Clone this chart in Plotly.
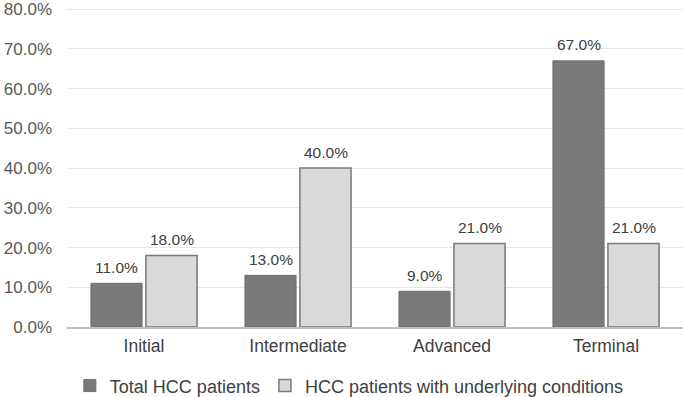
import plotly.graph_objects as go

categories = ["Initial", "Intermediate", "Advanced", "Terminal"]
total_hcc = [11.0, 13.0, 9.0, 67.0]
hcc_underlying = [18.0, 40.0, 21.0, 21.0]
series_names = ["Total HCC patients", "HCC patients with underlying conditions"]
y_ticks = [0, 10, 20, 30, 40, 50, 60, 70, 80]

font_family = "Liberation Sans, Arial, sans-serif"

fig = go.Figure()
fig.add_trace(go.Bar(
    x=categories, y=total_hcc, name=series_names[0],
    marker=dict(color="#7a7a7a", line=dict(color="#6e6e6e", width=1)),
))
fig.add_trace(go.Bar(
    x=categories, y=hcc_underlying, name=series_names[1],
    marker=dict(color="#d9d9d9", line=dict(color="#7a7a7a", width=1.5)),
))

# data labels above each bar (offset left/right within the group)
for series, dx in ((total_hcc, -27.5), (hcc_underlying, 27.5)):
    for cat, v in zip(categories, series):
        fig.add_annotation(x=cat, y=v, text=f"{v:.1f}%", showarrow=False,
                           xshift=dx, yshift=16, yanchor="middle",
                           font=dict(size=15.5, color="#404040", family=font_family))

fig.update_layout(
    width=685, height=397,
    margin=dict(l=67, r=2, t=8, b=70),
    paper_bgcolor="white", plot_bgcolor="white",
    barmode="group", bargap=0.286, bargroupgap=0.07,
    font=dict(family=font_family, size=17, color="#595959"),
    showlegend=True,
    legend=dict(orientation="h", xref="container", x=0.51, xanchor="center",
                yref="container", y=0.028, yanchor="middle",
                font=dict(size=18, color="#404040"), itemwidth=30, traceorder="normal"),
    xaxis=dict(showline=True, linecolor="#bfbfbf", linewidth=1.5, ticks="",
               automargin=False, ticklabelstandoff=2,
               tickfont=dict(size=17.5, color="#404040")),
    yaxis=dict(range=[0, 80.3], tickvals=y_ticks, ticktext=[f"{t:.1f}%" for t in y_ticks],
               showgrid=True, gridcolor="#e6e6e6", gridwidth=1, zeroline=False,
               showline=False, ticks="", ticklabelstandoff=14, automargin=False,
               tickfont=dict(size=17, color="#595959")),
)

fig.write_html("out.html", config={"displayModeBar": False},
               post_script="document.body.style.margin='0';document.body.style.overflow='hidden';")
